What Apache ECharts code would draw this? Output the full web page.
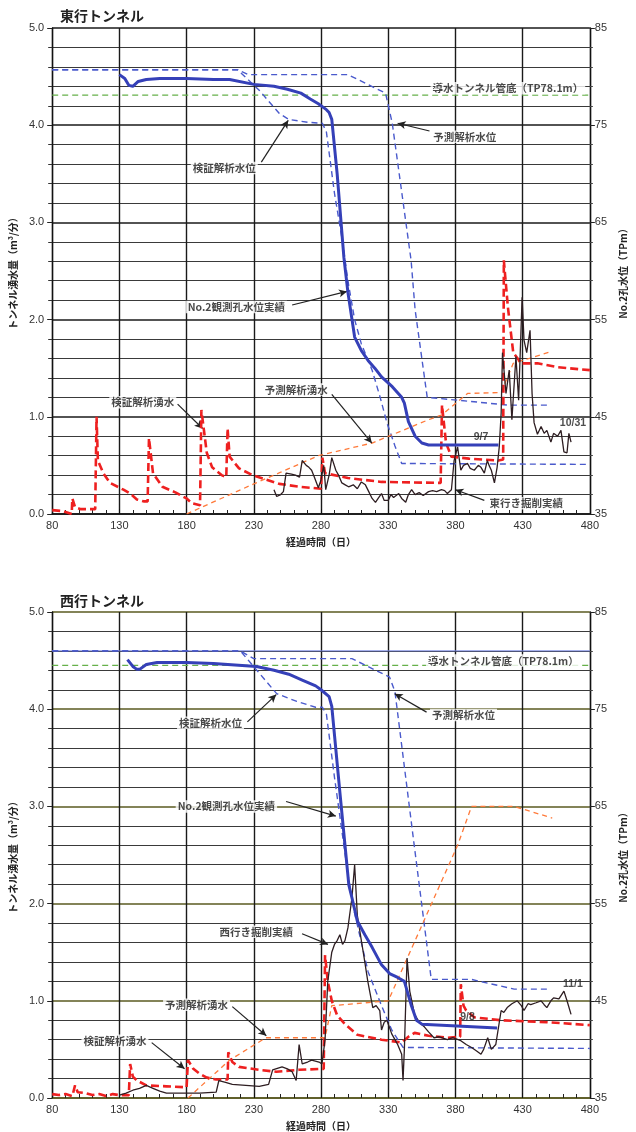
<!DOCTYPE html>
<html><head><meta charset="utf-8">
<script src="https://cdn.jsdelivr.net/npm/echarts@6/dist/echarts.min.js"></script>
<style>html,body{margin:0;padding:0;background:#fff}#c{width:636px;height:1132px}</style>
</head><body><div id="c"></div>
<script>
// ===== DATA =====
const xTicks = [80,130,180,230,280,330,380,430,480];
const leftTicks = ['0.0','1.0','2.0','3.0','4.0','5.0'];
const rightTicks = [35,45,55,65,75,85];

// ---- East tunnel (東行) ----
// water level series in TPm: [day, TP]
const eObsWL = [[130,80.2],[134,79.8],[137,79.1],[140,79.0],[144,79.5],[150,79.7],[160,79.8],[180,79.8],[200,79.7],[212,79.7],[230,79.2],[245,79.0],[255,78.7],[265,78.3],[272,77.7],[278,77.2],[284,76.6],[286,76.3],[288,75.6],[292,70.0],[297,61.4],[300,57.8],[305,53.2],[310,51.8],[315,50.8],[320,50.0],[325,49.1],[333,48.1],[340,47.0],[342,46.4],[345,44.5],[350,43.0],[355,42.3],[360,42.1],[412,42.1]];
const eVerWL = [[80,80.7],[218,80.7],[234,78.6],[249,76.2],[256,75.6],[270,75.3],[281,75.2],[284,74.3],[290,68.0],[296,63.0],[300,59.0],[305,55.0],[310,52.5],[318,49.8],[324,47.0],[329,44.4],[335,42.0],[340,40.2],[480,40.1]];
const ePreWL = [[80,80.7],[218,80.7],[226,80.2],[300,80.2],[328,78.3],[333,75.2],[347,61.1],[350,56.0],[359,47.0],[390,46.6],[419,46.2],[451,46.2]];
const eDuct = [[80,78.1],[480,78.1]];
// inflow series in m3/min: [day, value]
const eVerQ = [[80,0.04],[88,0.03],[94.5,0.0],[95,0.16],[97,0.07],[101,0.05],[112,0.05],[113,1.0],[114,0.55],[118,0.42],[123,0.32],[133,0.25],[138,0.21],[143,0.15],[148,0.13],[151,0.13],[152,0.78],[155,0.42],[162,0.28],[172,0.22],[180,0.16],[184,0.11],[190,0.09],[191,1.07],[195,0.63],[199,0.48],[206,0.40],[209.5,0.38],[210.5,0.88],[212,0.59],[219,0.47],[229,0.40],[249,0.31],[264,0.28],[280,0.26],[281,0.58],[283,0.42],[300,0.37],[325,0.33],[369,0.32],[370,1.12],[373,0.73],[377,0.59],[390,0.57],[412,0.55],[415.5,0.56],[416,2.61],[419,2.13],[423,1.66],[429,1.55],[441,1.55],[456,1.51],[480,1.48]];
const ePreQ = [[180,0.0],[230,0.31],[250,0.43],[278,0.6],[318,0.73],[360,0.97],[370,1.02],[389,1.24],[414,1.25],[423,1.55],[451,1.67]];
const eActQ = [[245,0.25],[247,0.18],[250,0.2],[252,0.23],[254,0.42],[258,0.41],[261,0.4],[264,0.38],[266,0.55],[269,0.5],[271,0.48],[273,0.45],[275,0.38],[278,0.27],[280,0.35],[282,0.5],[283.5,0.25],[286,0.4],[288,0.58],[291,0.45],[293,0.4],[295.5,0.32],[298,0.3],[300.5,0.28],[304,0.3],[307,0.26],[310,0.33],[313,0.3],[315.5,0.23],[318,0.16],[320.5,0.12],[323,0.17],[325,0.21],[327,0.14],[330,0.14],[332,0.2],[334,0.17],[337.8,0.21],[340,0.16],[343,0.12],[345,0.2],[347.4,0.25],[350,0.2],[353,0.22],[356,0.19],[360,0.23],[363,0.24],[366,0.23],[369.6,0.25],[372,0.24],[374,0.21],[377,0.25],[379,0.55],[381.6,0.69],[384,0.45],[386,0.5],[389,0.52],[391,0.47],[394,0.45],[397,0.5],[399,0.48],[401.5,0.42],[403.7,0.55],[405,0.5],[406.7,0.45],[409,0.32],[411,0.48],[412.6,0.69],[414,1.04],[415,1.66],[417.6,1.24],[420,1.48],[422,0.97],[425,1.62],[427,1.17],[429.6,2.23],[431,1.79],[433,1.66],[435.5,1.89],[437,1.24],[438.5,0.94],[441,0.82],[443.7,0.9],[446,0.83],[448,0.86],[451,0.74],[453,0.83],[456,0.8],[458.5,0.86],[460.7,0.64],[463,0.63],[464.4,0.83],[466,0.74]];

// ---- West tunnel (西行) ----
const wObsWL = [[136,80.1],[140,79.4],[143,79.1],[145,79.1],[150,79.6],[158,79.8],[180,79.8],[200,79.7],[232,79.4],[245,79.0],[256,78.6],[266,78.0],[276,77.4],[280,77.0],[286,76.3],[288,75.3],[294,66.5],[300.7,56.9],[303,55.6],[307,53.2],[312.6,51.8],[318,50.5],[325,48.7],[331,47.8],[337,47.4],[342,47.0],[347,44.6],[351,43.0],[355,42.6],[411,42.2]];
const wVerWL = [[80,81.0],[220,81.0],[247,76.6],[262,75.8],[276,75.2],[281,75.2],[284,74.5],[290,68.0],[300,58.0],[305,54.0],[315,48.0],[325,44.5],[332.6,42.0],[341,40.2],[480,40.1]];
const wPreWL = [[80,81.0],[220,81.0],[230,80.2],[303,80.2],[331,78.3],[335,76.8],[349.6,60.7],[362,47.2],[392,47.2],[423.7,46.2],[451,46.2]];
const wDuct = [[80,79.5],[480,79.5]];
const wRef46 = [[80,81.0],[480,81.0]];
const wVerQ = [[80,0.04],[85,0.03],[90,0.04],[95,0.02],[97,0.13],[99,0.06],[105,0.05],[110,0.03],[115,0.04],[120,0.02],[125,0.04],[130,0.03],[137,0.03],[138,0.35],[140,0.22],[143,0.18],[150,0.13],[165,0.12],[180,0.11],[181,0.39],[185,0.3],[189.6,0.25],[195,0.21],[202,0.19],[210.5,0.19],[211,0.47],[214,0.37],[219,0.32],[234,0.29],[246.7,0.27],[263.7,0.29],[282,0.3],[283,1.47],[285,1.2],[288,1.0],[292,0.85],[297.8,0.76],[307,0.65],[325,0.6],[340,0.57],[345,0.63],[349.6,0.67],[360,0.64],[374,0.62],[383.5,0.63],[384,1.17],[386,0.95],[388,0.9],[394,0.83],[414,0.8],[448,0.78],[480,0.75]];
const wPreQ = [[181,0.0],[212,0.39],[239,0.62],[283,0.62],[288,0.95],[330,1.0],[381.6,2.6],[392,3.0],[423.7,3.0],[452,2.88]];
const wActQ = [[130,0.03],[135,0.05],[140,0.08],[145,0.1],[150,0.13],[155,0.1],[160,0.07],[165,0.05],[180,0.05],[189.6,0.05],[202,0.06],[204,0.18],[209,0.16],[214,0.14],[224,0.13],[234,0.12],[241,0.14],[244,0.29],[251,0.32],[255,0.3],[258.5,0.27],[261.5,0.18],[263.7,0.55],[266,0.35],[270,0.37],[273,0.39],[278.5,0.37],[280.7,0.35],[283,0.6],[285,1.2],[288,1.5],[290,1.58],[292,1.62],[294,1.68],[296,1.58],[297.8,1.62],[300,1.75],[303,2.06],[305,2.4],[307,1.88],[310,1.62],[312,1.45],[314.8,1.2],[318.5,0.93],[321,0.95],[323.7,0.9],[325,0.7],[327,0.78],[329,0.8],[332.6,0.66],[335,0.6],[337,0.55],[340,0.45],[341,0.18],[342,0.5],[344,1.44],[346,1.1],[349.6,0.86],[353,0.78],[357,0.73],[360,0.68],[364,0.62],[368,0.63],[374,0.6],[378,0.62],[384,0.59],[388,0.55],[392,0.52],[396,0.48],[399,0.45],[401,0.5],[404,0.62],[406.7,0.5],[410,0.55],[414,0.9],[416,0.88],[418.5,0.93],[422,0.97],[426,1.0],[429,0.95],[431,0.9],[434,0.97],[436,0.96],[440,0.98],[443.7,1.0],[446,0.96],[448,0.93],[451,1.0],[453,1.03],[457,1.02],[460.7,1.1],[463,1.0],[466,0.86]];

// annotations: [day, left value, text]
const eNotes = [[208,3.56,'検証解析水位'],[387,3.88,'予測解析水位'],[217,2.13,'No.2観測孔水位実績'],[147.4,1.15,'検証解析湧水'],[261.5,1.28,'予測解析湧水'],[432.6,0.11,'東行き掘削実績'],[419,4.38,'導水トンネル管底（TP78.1m）']];
const eSmall = [[399,0.79,'9/7'],[467.4,0.93,'10/31']];
const eArrows = [[235.6,3.62,255.6,4.05],[360.7,3.94,337,4.02],[258.5,2.15,299.3,2.29],[173.3,1.13,191.9,0.88],[288,1.23,317.8,0.73],[401.5,0.14,380,0.25]];
const wNotes = [[197.8,3.86,'検証解析水位'],[386,3.94,'予測解析水位'],[209.6,3.0,'No.2観測孔水位実績'],[231.8,1.71,'西行き掘削実績'],[187.4,0.96,'予測解析湧水'],[126.7,0.59,'検証解析湧水'],[415.6,4.5,'導水トンネル管底（TP78.1m）']];
const wSmall = [[389,0.83,'9/8'],[467.4,1.17,'11/1']];
const wArrows = [[225.2,3.87,246.7,4.15],[358.5,3.97,334.8,4.16],[254,3.05,291,2.9],[265.9,1.69,285.2,1.58],[214,0.94,239.3,0.64],[154,0.57,178.5,0.3]];

// ===== CHART =====
const FONT = 'Liberation Sans, Arial, sans-serif';
const JFONT = '"Noto Sans CJK JP", sans-serif';
const chart = echarts.init(document.getElementById('c'), null, {renderer:'canvas'});

const grids = [
  {left:52, right:44, top:28, height:486},
  {left:52, right:44, top:612, height:489}
];
function xAx(gi, axisColor){
  return {type:'value', gridIndex:gi, min:80, max:480, interval:50,
    name:'経過時間（日）', nameLocation:'middle', nameGap:23,
    nameTextStyle:{fontFamily:JFONT, fontSize:10, fontWeight:'bold', color:'#222'},
    axisLine:{onZero:false, lineStyle:{color:axisColor, width:1.5}},
    axisTick:{show:true, inside:true, length:5, lineStyle:{color:'#111'}},
    minorTick:{show:true, splitNumber:5, length:4, lineStyle:{color:'#222'}},
    axisLabel:{fontFamily:FONT, fontSize:11, color:'#333', margin:6},
    splitLine:{show:true, lineStyle:{color:'#1a1a1a', width:1.4}}};
}
function yLeft(gi, majorColor){
  return {type:'value', gridIndex:gi, min:0, max:5, interval:1, position:'left',
    name:'トンネル湧水量（m³/分）', nameLocation:'middle', nameGap:33, nameRotate:90,
    nameTextStyle:{fontFamily:JFONT, fontSize:10, fontWeight:'bold', color:'#222'},
    axisLine:{show:true, lineStyle:{color:'#111', width:1.3}},
    axisTick:{show:true, length:5, lineStyle:{color:'#222'}},
    minorTick:{show:true, splitNumber:5, length:4, lineStyle:{color:'#333'}},
    axisLabel:{fontFamily:FONT, fontSize:11, color:'#333', margin:8, formatter:v=>v.toFixed(1)},
    splitLine:{show:true, lineStyle:{color:majorColor, width:1.6}},
    minorSplitLine:{show:true, lineStyle:{color:'#3a3a3a', width:1}}};
}
function yRight(gi){
  return {type:'value', gridIndex:gi, min:35, max:85, interval:10, position:'right',
    name:'No.2孔水位（TPm）', nameLocation:'middle', nameGap:27, nameRotate:90,
    nameTextStyle:{fontFamily:JFONT, fontSize:10, fontWeight:'bold', color:'#222'},
    axisLine:{show:true, lineStyle:{color:'#111', width:1.3}},
    axisTick:{show:true, length:5, lineStyle:{color:'#222'}},
    minorTick:{show:true, splitNumber:5, length:3, lineStyle:{color:'#444'}},
    axisLabel:{fontFamily:FONT, fontSize:11, color:'#333', margin:5},
    splitLine:{show:false}};
}

function line(name, data, xi, yi, color, width, type, z){
  return {name, type:'line', data, xAxisIndex:xi, yAxisIndex:yi, showSymbol:false, symbol:'none',
    lineStyle:{color, width, type}, itemStyle:{color}, z:z||3, silent:true, animation:false};
}
function notes(list, small, arrows, xi, yi){
  const d = list.map(n=>({value:[n[0],n[1]], name:n[2]}));
  const s = small.map(n=>({value:[n[0],n[1]], name:n[2],
    label:{backgroundColor:'transparent', fontWeight:'bold', fontFamily:FONT, fontSize:10.5, color:'#222'}}));
  return {type:'scatter', xAxisIndex:xi, yAxisIndex:yi, symbolSize:0, data:d.concat(s), z:10, silent:true, animation:false,
    label:{show:true, position:'inside', formatter:'{b}', fontFamily:JFONT, fontSize:10.5, fontWeight:'bold', color:'#1a1a1a',
      backgroundColor:'#fff', padding:[1,2]},
    markLine:{silent:true, animation:false, symbol:['none','arrow'], symbolSize:[6,8],
      lineStyle:{color:'#222', width:1.2, type:'solid'}, label:{show:false},
      data: arrows.map(a=>[{coord:[a[0],a[1]]},{coord:[a[2],a[3]]}])}};
}

const BLUE='#3540b8', BDASH='#4a5acc', RED='#ee2020', ORANGE='#ff7a3a', GREEN='#66b04a', BLACK='#2e1e22';
const series = [];
[[0,0,1,{obs:eObsWL,ver:eVerWL,pre:ePreWL,duct:eDuct,vq:eVerQ,pq:ePreQ,aq:eActQ,n:eNotes,s:eSmall,a:eArrows}],
 [1,2,3,{obs:wObsWL,ver:wVerWL,pre:wPreWL,duct:wDuct,vq:wVerQ,pq:wPreQ,aq:wActQ,n:wNotes,s:wSmall,a:wArrows,ref:wRef46}]]
.forEach(([xi,yl,yr,D])=>{
  if (D.ref) series.push(line('ref', D.ref, xi, yr, '#6f7fe0', 1, 'solid', 2));
  series.push(line('導水トンネル管底', D.duct, xi, yr, GREEN, 1.3, [6,4], 3));
  series.push(line('予測解析水位', D.pre, xi, yr, BDASH, 1.4, [6,4], 4));
  series.push(line('検証解析水位', D.ver, xi, yr, BDASH, 1.4, [6,4], 4));
  series.push(line('予測解析湧水', D.pq, xi, yl, ORANGE, 1.3, [5,4], 4));
  series.push(line('検証解析湧水', D.vq, xi, yl, RED, 2.6, [8,4], 5));
  series.push(line('掘削実績', D.aq, xi, yl, BLACK, 1.3, 'solid', 6));
  series.push(line('No.2観測孔水位実績', D.obs, xi, yr, BLUE, 3, 'solid', 7));
  series.push(notes(D.n, D.s, D.a, xi, yl));
});

chart.setOption({
  backgroundColor:'#fff',
  animation:false,
  title:[
    {text:'東行トンネル', left:55, top:4, textStyle:{fontFamily:JFONT, fontSize:14, fontWeight:'bold', color:'#222'}},
    {text:'西行トンネル', left:55, top:589, textStyle:{fontFamily:JFONT, fontSize:14, fontWeight:'bold', color:'#222'}}
  ],
  grid:grids,
  xAxis:[xAx(0,'#111'), xAx(1,'#55551c')],
  yAxis:[yLeft(0,'#1a1a1a'), yRight(0), yLeft(1,'#5a5a20'), yRight(1)],
  series
});
</script></body></html>
